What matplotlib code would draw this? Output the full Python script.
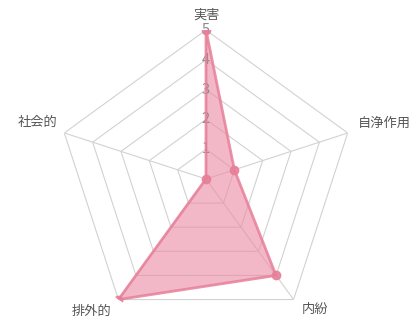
import numpy as np
import matplotlib
matplotlib.use("Agg")
import matplotlib.pyplot as plt

plt.rcParams['font.family'] = ['Noto Sans CJK JP', 'DejaVu Sans']

categories = ['実害', '自浄作用', '内紛', '排外的', '社会的']
values = [5, 1, 4, 5, 0]
ticks = [1, 2, 3, 4, 5]
rmax = 5

fig = plt.figure(figsize=(4.13, 3.24), dpi=100)
R = 149
cx, cy = 206, 179
ax = fig.add_axes([(cx - R) / 413, (324 - cy - R) / 324, 2 * R / 413, 2 * R / 324],
                  projection='polar')
ax.set_theta_offset(np.pi / 2)
ax.set_theta_direction(-1)
ax.set_ylim(0, rmax)
ax.grid(False)
ax.spines['polar'].set_visible(False)
ax.set_xticks([])
ax.set_yticks([])
ax.patch.set_alpha(0)

n = len(categories)
angles = np.linspace(0, 2 * np.pi, n, endpoint=False)
closed = np.append(angles, angles[0])

grid_color = '#d2d2d2'
for t in ticks:
    ax.plot(closed, [t] * (n + 1), color=grid_color, lw=0.8, zorder=1)
for a in angles:
    ax.plot([a, a], [0, rmax], color=grid_color, lw=0.8, zorder=1)

vals = np.append(values, values[0])
ax.fill(closed, vals, color='#ec8aa2', alpha=0.6, zorder=2, lw=0)

# scale numbers along the first spoke, over the fill and under the outline
for t in ticks:
    ax.text(0, t, str(t), color='#8a8a8a', fontsize=10.5, ha='center', va='center',
            zorder=2.5)

ax.plot(closed, vals, color='#e77f99', lw=2, alpha=0.85, zorder=3)
ax.plot(angles, values, 'o', color='#e77f99', ms=6, alpha=0.9, zorder=4)

# category labels, offset in pixels from each outer vertex
label_offsets = [(0, 15, 'center'), (10, 10, 'left'), (8, -10, 'left'),
                 (-7, -12, 'right'), (-7, 11, 'right')]
for a, lab, (dx, dy, ha) in zip(angles, categories, label_offsets):
    ax.annotate(lab, xy=(a, rmax), xytext=(dx, dy), textcoords='offset pixels',
                ha=ha, va='center', color='#555555', fontsize=9.5,
                annotation_clip=False)

fig.savefig('out.png', dpi=100)
